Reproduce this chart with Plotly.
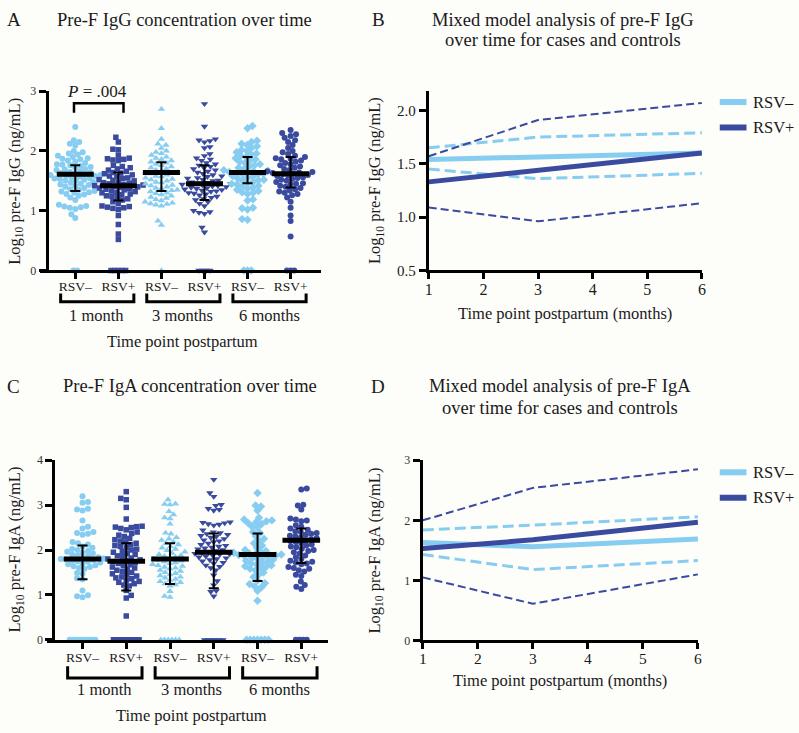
import plotly.graph_objects as go

# ---------------- data ----------------
group_labels = ["RSV–", "RSV+", "RSV–", "RSV+", "RSV–", "RSV+"]
time_labels = ["1 month", "3 months", "6 months"]
legend_labels = ["RSV–", "RSV+"]

# Panel A: log10 pre-F IgG per group (1mo-, 1mo+, 3mo-, 3mo+, 6mo-, 6mo+)
A_1m_neg = [0, 0, 0.88, 0.94, 1.03, 1.05, 1.06, 1.07, 1.08, 1.10, 1.18, 1.22, 1.25, 1.27, 1.28, 1.30, 1.31,
            1.32, 1.33, 1.35, 1.36, 1.38, 1.40, 1.42, 1.43, 1.44, 1.45, 1.47, 1.48, 1.50, 1.51, 1.52, 1.53,
            1.54, 1.55, 1.56, 1.57, 1.58, 1.59, 1.60, 1.60, 1.61, 1.62, 1.63, 1.64, 1.65, 1.66, 1.68, 1.69,
            1.70, 1.72, 1.73, 1.75, 1.76, 1.77, 1.78, 1.80, 1.82, 1.84, 1.86, 1.87, 1.88, 1.90, 1.92, 1.94,
            1.96, 1.98, 2.00, 2.09, 2.12, 2.15, 2.18, 2.40]
A_1m_pos = [0, 0, 0, 0, 0, 0.52, 0.61, 0.77, 0.92, 1.02, 1.04, 1.05, 1.06, 1.07, 1.08, 1.12, 1.15, 1.18,
            1.20, 1.22, 1.24, 1.25, 1.27, 1.28, 1.30, 1.31, 1.32, 1.33, 1.35, 1.36, 1.37, 1.38, 1.39, 1.40,
            1.41, 1.42, 1.43, 1.44, 1.45, 1.46, 1.47, 1.48, 1.50, 1.51, 1.52, 1.54, 1.55, 1.57, 1.58, 1.60,
            1.62, 1.63, 1.64, 1.66, 1.68, 1.70, 1.72, 1.74, 1.76, 1.84, 1.85, 1.86, 1.87, 1.88, 1.93, 2.02,
            2.03, 2.15, 2.23]
A_3m_neg = [0, 0.76, 0.83, 1.08, 1.10, 1.11, 1.12, 1.13, 1.15, 1.17, 1.19, 1.21, 1.23, 1.25, 1.27, 1.29,
            1.30, 1.32, 1.34, 1.35, 1.37, 1.38, 1.40, 1.42, 1.43, 1.45, 1.47, 1.48, 1.50, 1.52, 1.53, 1.55,
            1.57, 1.58, 1.60, 1.62, 1.63, 1.64, 1.65, 1.66, 1.68, 1.70, 1.72, 1.74, 1.76, 1.78, 1.80, 1.82,
            1.84, 1.86, 1.88, 1.90, 1.93, 1.96, 1.98, 2.00, 2.05, 2.10, 2.12, 2.20, 2.38, 2.70]
A_3m_pos = [0, 0, 0, 0, 0.64, 0.72, 0.95, 0.97, 0.98, 1.00, 1.08, 1.12, 1.15, 1.18, 1.20, 1.22, 1.24,
            1.26, 1.28, 1.29, 1.30, 1.32, 1.33, 1.34, 1.35, 1.36, 1.37, 1.38, 1.39, 1.40, 1.41, 1.42, 1.43,
            1.44, 1.45, 1.46, 1.47, 1.48, 1.50, 1.51, 1.52, 1.54, 1.55, 1.57, 1.58, 1.60, 1.62, 1.64, 1.66,
            1.68, 1.70, 1.72, 1.74, 1.76, 1.78, 1.80, 1.84, 1.86, 1.88, 1.92, 1.95, 2.05, 2.07, 2.15, 2.17,
            2.18, 2.20, 2.41, 2.79]
A_6m_neg = [0, 0, 0, 0.85, 0.86, 1.02, 1.04, 1.05, 1.17, 1.19, 1.28, 1.30, 1.31, 1.33, 1.35, 1.37, 1.39,
            1.40, 1.42, 1.44, 1.45, 1.46, 1.48, 1.50, 1.51, 1.52, 1.54, 1.55, 1.57, 1.58, 1.60, 1.61, 1.62,
            1.63, 1.64, 1.65, 1.66, 1.67, 1.68, 1.70, 1.72, 1.74, 1.76, 1.78, 1.80, 1.82, 1.84, 1.86, 1.88,
            1.90, 1.92, 1.94, 1.96, 1.98, 2.00, 2.02, 2.05, 2.08, 2.10, 2.12, 2.15, 2.17, 2.38, 2.42]
A_6m_pos = [0, 0, 0, 0.57, 0.83, 0.92, 1.05, 1.15, 1.22, 1.26, 1.28, 1.30, 1.32, 1.34, 1.36, 1.38, 1.40,
            1.42, 1.44, 1.45, 1.46, 1.48, 1.50, 1.52, 1.53, 1.55, 1.56, 1.58, 1.59, 1.60, 1.61, 1.62, 1.63,
            1.64, 1.65, 1.66, 1.68, 1.70, 1.72, 1.74, 1.76, 1.78, 1.80, 1.82, 1.84, 1.86, 1.87, 1.88, 1.90,
            1.92, 1.95, 1.98, 2.00, 2.05, 2.10, 2.15, 2.18, 2.22, 2.25, 2.28, 2.30, 2.35]
A_median = [1.61, 1.42, 1.64, 1.45, 1.64, 1.62]
A_q1 = [1.33, 1.17, 1.33, 1.18, 1.46, 1.39]
A_q3 = [1.76, 1.64, 1.81, 1.76, 1.90, 1.90]

# Panel C: log10 pre-F IgA per group
C_1m_neg = [0] * 8 + [0.95, 0.97, 0.99, 1.10, 1.35, 1.37, 1.47, 1.49, 1.58, 1.60, 1.62, 1.64, 1.66, 1.68,
                      1.70, 1.72, 1.74, 1.75, 1.76, 1.78, 1.79, 1.80, 1.81, 1.82, 1.84, 1.86, 1.88, 1.90,
                      1.92, 1.94, 1.96, 1.98, 2.00, 2.02, 2.05, 2.08, 2.12, 2.15, 2.18, 2.34, 2.36, 2.38,
                      2.40, 2.48, 2.52, 2.66, 2.88, 2.90, 2.92, 3.05, 3.07, 3.20]
C_1m_pos = [0] * 8 + [0.53, 0.93, 0.99, 1.10, 1.20, 1.22, 1.25, 1.28, 1.30, 1.33, 1.36, 1.38, 1.40, 1.42,
                      1.45, 1.47, 1.50, 1.52, 1.55, 1.57, 1.60, 1.62, 1.65, 1.67, 1.70, 1.72, 1.74, 1.76,
                      1.78, 1.80, 1.82, 1.85, 1.87, 1.90, 1.92, 1.95, 1.97, 2.00, 2.02, 2.05, 2.08, 2.10,
                      2.12, 2.15, 2.18, 2.20, 2.23, 2.26, 2.30, 2.33, 2.37, 2.40, 2.45, 2.48, 2.50, 2.51,
                      2.52, 2.53, 2.69, 2.95, 3.12, 3.15, 3.30]
C_3m_neg = [0] * 6 + [0.95, 0.97, 1.08, 1.20, 1.23, 1.25, 1.28, 1.30, 1.33, 1.35, 1.38, 1.40, 1.43, 1.45,
                      1.48, 1.50, 1.53, 1.55, 1.58, 1.60, 1.62, 1.64, 1.66, 1.68, 1.70, 1.72, 1.74, 1.76,
                      1.78, 1.80, 1.82, 1.84, 1.86, 1.88, 1.90, 1.93, 1.96, 1.99, 2.02, 2.05, 2.08, 2.12,
                      2.15, 2.18, 2.22, 2.25, 2.28, 2.36, 2.38, 2.58, 2.70, 2.72, 2.79, 2.86, 3.01, 3.02,
                      3.03, 3.12]
C_3m_pos = [0] * 6 + [0.97, 1.07, 1.09, 1.22, 1.31, 1.44, 1.55, 1.60, 1.63, 1.66, 1.70, 1.72, 1.75, 1.78,
                      1.80, 1.82, 1.84, 1.86, 1.88, 1.90, 1.91, 1.92, 1.94, 1.96, 1.98, 2.00, 2.02, 2.04,
                      2.06, 2.08, 2.10, 2.12, 2.15, 2.18, 2.20, 2.22, 2.25, 2.28, 2.30, 2.32, 2.34, 2.36,
                      2.38, 2.40, 2.44, 2.55, 2.57, 2.58, 2.60, 2.61, 2.62, 2.88, 2.90, 2.92, 2.99, 3.01,
                      3.19, 3.27, 3.57]
C_6m_neg = [0] * 7 + [0.87, 1.09, 1.17, 1.19, 1.24, 1.26, 1.32, 1.40, 1.45, 1.50, 1.55, 1.58, 1.60, 1.62,
                      1.64, 1.66, 1.68, 1.70, 1.72, 1.74, 1.76, 1.78, 1.80, 1.82, 1.84, 1.86, 1.87, 1.88,
                      1.89, 1.90, 1.91, 1.92, 1.94, 1.96, 1.98, 2.00, 2.05, 2.10, 2.15, 2.20, 2.25, 2.30,
                      2.38, 2.40, 2.50, 2.52, 2.58, 2.60, 2.62, 2.64, 2.66, 2.68, 2.72, 2.88, 2.97, 2.99,
                      3.27]
C_6m_pos = [0] * 4 + [1.13, 1.18, 1.22, 1.30, 1.42, 1.45, 1.52, 1.55, 1.58, 1.60, 1.62, 1.68, 1.70, 1.72,
                      1.74, 1.76, 1.80, 1.84, 1.88, 1.92, 1.95, 1.98, 2.00, 2.03, 2.06, 2.08, 2.10, 2.12,
                      2.15, 2.18, 2.20, 2.22, 2.24, 2.26, 2.28, 2.30, 2.32, 2.34, 2.36, 2.38, 2.40, 2.42,
                      2.45, 2.48, 2.52, 2.55, 2.64, 2.66, 2.68, 2.70, 2.90, 2.99, 3.01, 3.35, 3.37]
C_median = [1.80, 1.75, 1.80, 1.95, 1.90, 2.22]
C_q1 = [1.35, 1.10, 1.24, 1.15, 1.31, 1.71]
C_q3 = [2.10, 2.15, 2.15, 2.37, 2.37, 2.48]

# Panel B / D: mixed model estimates (mean and 95% CI)
months = [1, 3, 6]
B_neg_mean = [1.54, 1.56, 1.60]
B_neg_lo = [1.45, 1.36, 1.41]
B_neg_hi = [1.65, 1.75, 1.79]
B_pos_mean = [1.33, 1.44, 1.60]
B_pos_lo = [1.09, 0.96, 1.13]
B_pos_hi = [1.57, 1.91, 2.07]
D_neg_mean = [1.63, 1.56, 1.69]
D_neg_lo = [1.43, 1.18, 1.33]
D_neg_hi = [1.84, 1.92, 2.06]
D_pos_mean = [1.53, 1.675, 1.97]
D_pos_lo = [1.05, 0.61, 1.10]
D_pos_hi = [2.00, 2.54, 2.85]

# ---------------- styling ----------------
W, H = 799, 733
LIGHT = "#86CDF1"
DARK = "#3A4A9E"
FONT = "Liberation Serif"
TXT = "#1a1a1a"
BG = "#FDFDFA"


def fx(p):
    return p / W


def fy(p):
    return 1 - p / H


def swarm_offsets(vals, ypx, xpx, d, zero_step):
    order = sorted(range(len(vals)), key=lambda i: vals[i])
    off = [0.0] * len(vals)
    zeros = [i for i in order if vals[i] == 0]
    nz = len(zeros)
    for k, i in enumerate(zeros):
        off[i] = (k - (nz - 1) / 2) * zero_step / xpx
    placed = []
    for i in order:
        if vals[i] == 0:
            continue
        y = vals[i] * ypx
        near = [(a, b) for a, b in placed if abs(b - y) < d]
        best = None
        signs = (-1, 1) if len(placed) % 2 else (1, -1)
        for step in range(0, 400):
            for s in ((1,) if step == 0 else signs):
                x = s * step * 0.5
                if all((x - a) ** 2 + (y - b) ** 2 >= d * d for a, b in near):
                    best = x
                    break
            if best is not None:
                break
        placed.append((best, y))
        off[i] = best / xpx
    return off


fig = go.Figure()

symbols = ["circle", "square", "triangle-up", "triangle-down", "diamond", "circle"]
sizes = [6, 5.5, 6.5, 6.5, 6.5, 6]
colors = [LIGHT, DARK, LIGHT, DARK, LIGHT, DARK]


def add_scatter_panel(groups, med, q1, q3, xa, ya, xpx, ypx):
    for i, vals in enumerate(groups):
        offs = swarm_offsets(vals, ypx, xpx, 5.4, 3.7)
        fig.add_trace(go.Scatter(
            x=[i + o for o in offs], y=vals, mode="markers",
            marker=dict(symbol=symbols[i], size=sizes[i], color=colors[i], line=dict(width=0)),
            xaxis=xa, yaxis=ya, showlegend=False, cliponaxis=False))
    # median bars and IQR whiskers on top of the points
    bx, by = [], []
    for i, m in enumerate(med):
        bx += [i - 0.43, i + 0.43, None]
        by += [m, m, None]
    fig.add_trace(go.Scatter(x=bx, y=by, mode="lines", line=dict(color="black", width=5),
                             xaxis=xa, yaxis=ya, showlegend=False, hoverinfo="skip"))
    fig.add_trace(go.Scatter(
        x=list(range(len(med))), y=med, mode="markers",
        marker=dict(size=1, color="black"),
        error_y=dict(type="data", symmetric=False,
                     array=[b - m for b, m in zip(q3, med)],
                     arrayminus=[m - a for m, a in zip(med, q1)],
                     color="black", thickness=2, width=5),
        xaxis=xa, yaxis=ya, showlegend=False, hoverinfo="skip"))


add_scatter_panel([A_1m_neg, A_1m_pos, A_3m_neg, A_3m_pos, A_6m_neg, A_6m_pos],
                  A_median, A_q1, A_q3, "x", "y", 43.5, 61.0)
add_scatter_panel([C_1m_neg, C_1m_pos, C_3m_neg, C_3m_pos, C_6m_neg, C_6m_pos],
                  C_median, C_q1, C_q3, "x3", "y3", 44.2, 45.8)


def add_model_panel(nm, nl, nh, pm, pl, ph, xa, ya):
    for yv in (nl, nh):
        fig.add_trace(go.Scatter(x=months, y=yv, mode="lines",
                                 line=dict(color=LIGHT, width=3, dash="11px,5px"),
                                 xaxis=xa, yaxis=ya, showlegend=False, cliponaxis=False))
    for yv in (pl, ph):
        fig.add_trace(go.Scatter(x=months, y=yv, mode="lines",
                                 line=dict(color=DARK, width=2, dash="8px,4px"),
                                 xaxis=xa, yaxis=ya, showlegend=False, cliponaxis=False))
    fig.add_trace(go.Scatter(x=months, y=nm, mode="lines", name=legend_labels[0],
                             line=dict(color=LIGHT, width=5), showlegend=False,
                             xaxis=xa, yaxis=ya, cliponaxis=False))
    fig.add_trace(go.Scatter(x=months, y=pm, mode="lines", name=legend_labels[1],
                             line=dict(color=DARK, width=5), showlegend=False,
                             xaxis=xa, yaxis=ya, cliponaxis=False))


add_model_panel(B_neg_mean, B_neg_lo, B_neg_hi, B_pos_mean, B_pos_lo, B_pos_hi, "x2", "y2")
add_model_panel(D_neg_mean, D_neg_lo, D_neg_hi, D_pos_mean, D_pos_lo, D_pos_hi, "x4", "y4")

axis_common = dict(showline=True, linecolor="black", linewidth=3, ticks="outside",
                   tickcolor="black", tickwidth=3, showgrid=False, zeroline=False,
                   fixedrange=True)

fig.update_layout(
    width=W, height=H, autosize=False,
    margin=dict(l=0, r=0, t=0, b=0),
    paper_bgcolor=BG, plot_bgcolor=BG,
    font=dict(family=FONT, color=TXT),
    showlegend=False,
    xaxis=dict(domain=[fx(36), fx(320)], range=[(36 - 72) / 43.5, (320 - 72) / 43.5], anchor="y",
               tickvals=list(range(6)), ticktext=group_labels, ticklen=6, ticklabelstandoff=-5,
               tickfont=dict(size=13.5, family=FONT, color=TXT), **axis_common),
    yaxis=dict(domain=[fy(269), fy(86)], range=[0, 3], anchor="free", position=fx(43),
               tickvals=[0, 1, 2, 3], ticklen=7, tickfont=dict(size=12, family=FONT, color="#333"),
               **axis_common),
    xaxis2=dict(domain=[fx(429), fx(705)], range=[0.999, 6.001], anchor="y2",
                tickvals=[1, 2, 3, 4, 5, 6], ticklen=6, ticklabelstandoff=-4,
                tickfont=dict(size=16, family=FONT, color=TXT), **axis_common),
    yaxis2=dict(domain=[fy(269), fy(86)], range=[0.499, 2.18], anchor="x2",
                tickvals=[0.5, 1.0, 1.5, 2.0], tickformat=".1f", ticklen=7,
                tickfont=dict(size=15, family=FONT, color=TXT), **axis_common),
    xaxis3=dict(domain=[fx(43), fx(327)], range=[(43 - 79.3) / 44.2, (327 - 79.3) / 44.2], anchor="y3",
                tickvals=list(range(6)), ticktext=group_labels, ticklen=6, ticklabelstandoff=-3,
                tickfont=dict(size=13.5, family=FONT, color=TXT), **axis_common),
    yaxis3=dict(domain=[fy(646), fy(462.7)], range=[0, 4], anchor="free", position=fx(50),
                tickvals=[0, 1, 2, 3, 4], ticklen=7, tickfont=dict(size=12, family=FONT, color="#333"),
                **axis_common),
    xaxis4=dict(domain=[fx(423), fx(701)], range=[0.999, 6.001], anchor="y4",
                tickvals=[1, 2, 3, 4, 5, 6], ticklen=6, ticklabelstandoff=-4,
                tickfont=dict(size=15.5, family=FONT, color=TXT), **axis_common),
    yaxis4=dict(domain=[fy(646.7), fy(462.7)], range=[-0.001, 3.001], anchor="x4",
                tickvals=[0, 1, 2, 3], ticklen=7, tickfont=dict(size=12, family=FONT, color="#333"),
                **axis_common),
)

ann = []
shapes = []


def text(x, y, s, size, xref="paper", yref="paper", angle=0, xanchor="center"):
    ann.append(dict(x=x, y=y, xref=xref, yref=yref, text=s, showarrow=False, textangle=angle,
                    xanchor=xanchor, yanchor="middle", font=dict(family=FONT, size=size, color=TXT)))


# panel letters and titles
text(fx(10), fy(13), "A", 19)
text(fx(182), fy(13), "Pre-F IgG concentration over time", 18.5)
text(fx(378), fy(13), "B", 19)
text(fx(565), fy(13), "Mixed model analysis of pre-F IgG", 18.5)
text(fx(565), fy(33.5), "over time for cases and controls", 18.5)
text(fx(10), fy(387), "C", 19)
text(fx(188), fy(387), "Pre-F IgA concentration over time", 18.5)
text(fx(378), fy(387), "D", 19)
text(fx(562), fy(387), "Mixed model analysis of pre-F IgA", 18.5)
text(fx(562), fy(409), "over time for cases and controls", 18.5)

# y-axis titles
text(fx(11), fy(177.5), "Log<sub>10</sub> pre-F IgG (ng/mL)", 16.5, angle=-90)
text(fx(375), fy(177.5), "Log<sub>10</sub> pre-F IgG (ng/mL)", 16.5, angle=-90)
text(fx(11), fy(554), "Log<sub>10</sub> pre-F IgA (ng/mL)", 16.5, angle=-90)
text(fx(375), fy(554.7), "Log<sub>10</sub> pre-F IgA (ng/mL)", 16.5, angle=-90)

# x-axis titles
text(2.5, fy(341), "Time point postpartum", 16.5, xref="x")
text(2.5, fy(723), "Time point postpartum", 16.5, xref="x3")
text(fx(567), fy(313), "Time point postpartum (months)", 16.5)
text(fx(562), fy(688), "Time point postpartum (months)", 16.5)

# legends for B and D (line samples + labels)
for y0, y1 in ((97, 123), (475, 501)):
    for yy, col, lab in ((y0, LIGHT, legend_labels[0]), (y1, DARK, legend_labels[1])):
        shapes.append(dict(type="line", xref="paper", yref="paper", x0=fx(723), x1=fx(750),
                           y0=fy(yy), y1=fy(yy), line=dict(color=col, width=6)))
        text(fx(755), fy(yy), lab, 16.5, xanchor="left")

# time group labels + brackets
for k, lab in enumerate(time_labels):
    text(2 * k + 0.5, fy(315), lab, 16.5, xref="x")
    text(2 * k + 0.5, fy(697), lab, 16.5, xref="x3")
    for xr, top, bot in (("x", fy(292.5), fy(301)), ("x3", fy(673), fy(685))):
        x0, x1 = 2 * k - 0.34, 2 * k + 1.36
        shapes.append(dict(type="path", xref=xr, yref="paper",
                           path=f"M {x0},{top} L {x0},{bot} L {x1},{bot} L {x1},{top}",
                           line=dict(color="black", width=3)))

# significance bracket
shapes.append(dict(type="path", xref="x", yref="y",
                   path="M -0.03,2.64 L -0.03,2.80 L 1.12,2.80 L 1.12,2.64",
                   line=dict(color="black", width=2.5)))
text(0.5, 3.0, "<i>P</i> = .004", 17, xref="x", yref="y")

fig.update_layout(annotations=ann, shapes=shapes)
fig.write_html("out.html", config={"displayModeBar": False},
               post_script="document.body.style.margin='0';")
